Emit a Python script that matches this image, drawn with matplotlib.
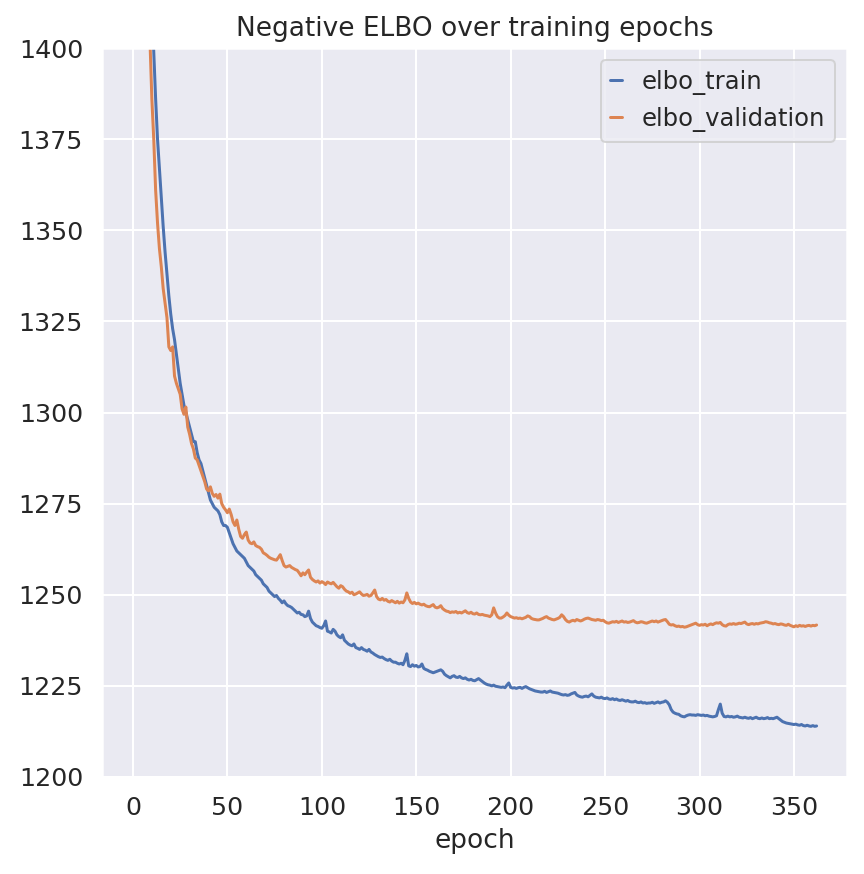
import numpy as np
import matplotlib
matplotlib.use("Agg")
import matplotlib.pyplot as plt
import seaborn as sns

# ------------------------------------------------------
# Datos: ELBO negativo por época
# ------------------------------------------------------
elbo_train = [
    2250, 1880, 1720, 1630, 1565, 1518, 1482, 1455, 1436, 1421,
    1414, 1399, 1386, 1375, 1367, 1359, 1351, 1344, 1338, 1332,
    1327, 1323, 1320, 1316, 1312, 1308, 1305, 1302, 1300, 1298,
    1296, 1294, 1292, 1292, 1289, 1287, 1286, 1284, 1282, 1280,
    1278, 1276, 1275, 1274, 1273.5, 1273, 1272, 1270, 1269, 1269,
    1268.5, 1267, 1265.5, 1264, 1263, 1262, 1261.5, 1261, 1260.5, 1260,
    1259, 1258, 1257.5, 1257, 1256.5, 1255.5, 1255, 1254.5, 1254, 1253,
    1252.5, 1252, 1251, 1250.5, 1250, 1249.5, 1249.8, 1249, 1248.5, 1247.8,
    1248.3, 1247.5, 1247, 1246.8, 1246.5, 1246, 1245.5, 1245, 1245.2, 1244.6,
    1244.5, 1244, 1244.2, 1245.5, 1243.5, 1242.5, 1242, 1241.5, 1241.3, 1241,
    1240.8, 1241.5, 1242.8, 1240, 1239.8, 1239.5, 1240.5, 1240, 1239, 1238.5,
    1238.2, 1239, 1237.5, 1237, 1236.5, 1236.2, 1236, 1236.5, 1235.5, 1235.3,
    1235, 1235.5, 1235, 1234.8, 1234.5, 1235, 1234.3, 1234, 1233.6, 1233.3,
    1233, 1232.8, 1232.9, 1232.5, 1232.2, 1232, 1232.3, 1231.8, 1231.5, 1231.5,
    1231.2, 1231, 1231.2, 1230.8, 1232, 1233.8, 1230.5, 1230.3, 1230.8, 1230.4,
    1230.6, 1230.2, 1230.3, 1231, 1229.8, 1229.5, 1229.3, 1229, 1228.8, 1228.6,
    1228.8, 1229, 1229.2, 1229.4, 1229, 1228.2, 1227.8, 1227.5, 1227.2, 1227.6,
    1227.8, 1227.4, 1227.3, 1227.6, 1227.2, 1227, 1227.2, 1226.8, 1226.6, 1226.8,
    1226.5, 1226.4, 1226.7, 1227, 1226.6, 1226.2, 1225.8, 1225.5, 1225.3, 1225.2,
    1225, 1225.2, 1224.9, 1224.8, 1224.7, 1224.6, 1224.7, 1224.5, 1225.2, 1225.8,
    1224.6, 1224.4, 1224.5, 1224.3, 1224.5, 1224.6, 1224.3, 1224.6, 1224.8, 1224.5,
    1224.2, 1224, 1223.8, 1223.6, 1223.5, 1223.4, 1223.3, 1223.3, 1223.5, 1223.2,
    1223.4, 1223.6, 1223.3, 1223.2, 1223.1, 1223, 1222.8, 1222.6, 1222.5, 1222.6,
    1222.4, 1222.5, 1222.8, 1223, 1223.2, 1222.5, 1222.2, 1222, 1221.9, 1222.1,
    1222.2, 1222, 1222.4, 1222.8, 1222.2, 1221.9, 1221.8, 1221.7, 1221.9, 1221.6,
    1221.5, 1221.7, 1221.4, 1221.3, 1221.5, 1221.2, 1221.4, 1221.1, 1221, 1221.2,
    1221, 1220.8, 1221, 1220.7, 1220.6, 1220.6, 1220.8, 1220.5, 1220.4, 1220.6,
    1220.3, 1220.4, 1220.2, 1220.3, 1220.3, 1220.5, 1220.2, 1220.4, 1220.6, 1220.3,
    1220.5, 1220.6, 1220.9, 1220.5, 1219.8, 1218.5, 1217.8, 1217.5, 1217.3, 1217.2,
    1216.8, 1216.6, 1216.5, 1216.8, 1217, 1217.1, 1217, 1217, 1216.9, 1217.1,
    1217, 1216.9, 1217, 1216.8, 1216.9, 1216.7, 1216.6, 1216.5, 1216.6, 1216.8,
    1218.5, 1220, 1217.5, 1216.6, 1216.5, 1216.7, 1216.5, 1216.6, 1216.4, 1216.5,
    1216.7, 1216.4, 1216.3, 1216.2, 1216.4, 1216.2, 1216.1, 1216.3, 1216, 1216.2,
    1216.4, 1216.1, 1216, 1216.2, 1216, 1216.1, 1216.3, 1216, 1216.1, 1216,
    1216.2, 1216.4, 1216, 1215.6, 1215.2, 1215, 1214.8, 1214.7, 1214.6, 1214.5,
    1214.4, 1214.5, 1214.3, 1214.2, 1214.4, 1214.1, 1214, 1214.2, 1214, 1213.9,
    1214.1, 1213.9, 1214,
]

elbo_validation = [
    2050, 1800, 1680, 1600, 1545, 1500, 1466, 1440, 1420, 1402,
    1386, 1375, 1361, 1352, 1345, 1340, 1334, 1330, 1326, 1318,
    1317, 1318, 1310, 1308, 1306.5, 1305, 1301, 1299.5, 1301.5, 1296,
    1294, 1291.5, 1290, 1287.5, 1287, 1285.5, 1284, 1282.5, 1281, 1279,
    1278.5, 1279.6, 1277.8, 1277, 1277.5, 1276.5, 1277.6, 1275, 1274, 1273.3,
    1272.5, 1273.5, 1272, 1270, 1269, 1270.5, 1268, 1266, 1265.5, 1266.5,
    1267.2, 1265, 1264.2, 1264, 1264.5, 1263.5, 1263.2, 1263, 1262.5, 1261.5,
    1261.2, 1260.8, 1260.3, 1260, 1259.8, 1259.6, 1259.5, 1260.2, 1261, 1259.4,
    1258, 1257.6, 1257.8, 1258, 1257.5, 1257.2, 1256.9, 1256.7, 1256, 1255.2,
    1256, 1255.5, 1256.2, 1256.8, 1254.8, 1254.2, 1253.8, 1253.5, 1253.8, 1253.2,
    1253.6, 1253.3, 1252.8, 1253.5, 1253.2, 1253, 1253.4, 1252.8, 1252.2, 1251.8,
    1252.5, 1252.2, 1251.5, 1251, 1250.8, 1250.4, 1250.7, 1250, 1250.2, 1250.5,
    1250.8, 1250.2, 1249.8, 1249.9, 1250.1, 1249.6, 1249.8, 1250.5, 1251.3, 1249.5,
    1248.8, 1248.6, 1249, 1248.5, 1248.7, 1248.2, 1248, 1248.4, 1248.1, 1247.8,
    1248.2, 1247.7, 1248, 1247.8, 1248.6, 1250.5, 1249, 1248, 1247.6, 1247.9,
    1247.5, 1247.7, 1247.4, 1247.2, 1247.4, 1247, 1246.8, 1246.7, 1247, 1247.3,
    1246.6, 1246.4, 1246.6, 1247, 1246.2, 1245.8, 1245.5, 1245.4, 1245.1, 1245.3,
    1245.2, 1245.4, 1245, 1245.2, 1245, 1245.3, 1245.6, 1245.1, 1244.9, 1245.2,
    1244.8, 1244.7, 1245, 1244.6, 1244.5, 1244.6, 1244.4, 1244.3, 1244.2, 1244,
    1244.5, 1246.4, 1245, 1244, 1243.6, 1243.6, 1243.9, 1244.3, 1245, 1244.4,
    1244, 1243.8, 1243.6, 1243.7, 1243.5, 1243.6, 1243.4, 1243.6, 1243.8, 1244.2,
    1244, 1243.5, 1243.3, 1243.2, 1243.1, 1243.1, 1243.3, 1243.5, 1243.8, 1244,
    1243.6, 1243.4, 1243.2, 1243.1, 1243.3, 1243.5, 1243.8, 1244.5, 1244, 1243.2,
    1242.7, 1242.5, 1242.8, 1243, 1242.8, 1243.2, 1243, 1242.8, 1243, 1243.3,
    1243.5, 1243.6, 1243.4, 1243.2, 1243.1, 1243, 1243.2, 1243.1, 1242.9, 1243,
    1242.6, 1242.3, 1242.2, 1242.4, 1242.6, 1242.5, 1242.7, 1242.4, 1242.6, 1242.8,
    1242.5, 1242.6, 1242.4, 1242.5, 1242.7, 1242.9, 1242.5, 1242.3, 1242.4, 1242.6,
    1242.5, 1242.3, 1242.2, 1242.4, 1242.6, 1242.8, 1242.6, 1242.8, 1242.5, 1242.7,
    1242.9, 1243.1, 1243.2, 1242.6, 1241.9, 1241.7, 1241.8, 1241.5, 1241.3, 1241.4,
    1241.2, 1241.3, 1241.1, 1241.2, 1241.4, 1241.6, 1241.8, 1242, 1242.2, 1241.8,
    1241.6, 1241.8, 1241.7, 1241.9, 1241.5, 1241.8, 1242, 1241.8, 1242.1, 1242.3,
    1242.2, 1242.4, 1241.8, 1241.5, 1241.4, 1241.8, 1242, 1241.9, 1242.1, 1241.9,
    1242, 1242.2, 1242.1, 1242.3, 1242.5, 1242, 1241.8, 1242, 1242.1, 1241.9,
    1242.1, 1242, 1242.2, 1242.3, 1242.4, 1242.6, 1242.5, 1242.3, 1242.2, 1242,
    1242.1, 1241.9, 1241.8, 1242, 1241.9, 1241.7, 1241.6, 1241.9, 1241.6, 1241.4,
    1241.2, 1241.5, 1241.3, 1241.6, 1241.4, 1241.5, 1241.3, 1241.5, 1241.6, 1241.4,
    1241.6, 1241.5, 1241.7,
]

epochs = np.arange(len(elbo_train))

# ------------------------------------------------------
# Gráfico
# ------------------------------------------------------
sns.set_theme(font_scale=1.1)

fig = plt.figure(figsize=(6, 874 / 144), dpi=144)
ax = fig.add_axes([102 / 864, 1 - 777 / 874, 745 / 864, 729 / 874])

ax.plot(epochs, elbo_train, label="elbo_train")
ax.plot(epochs, elbo_validation, label="elbo_validation")

ax.set_title("Negative ELBO over training epochs")
ax.set_xlabel("epoch")
ax.set_ylim(1200, 1400)
ax.set_xlim(-16.4, 378.1)
ax.tick_params(labelsize=12.7)
ax.legend(loc="upper right", handlelength=0.5)

fig.savefig("out.png", dpi=144)
